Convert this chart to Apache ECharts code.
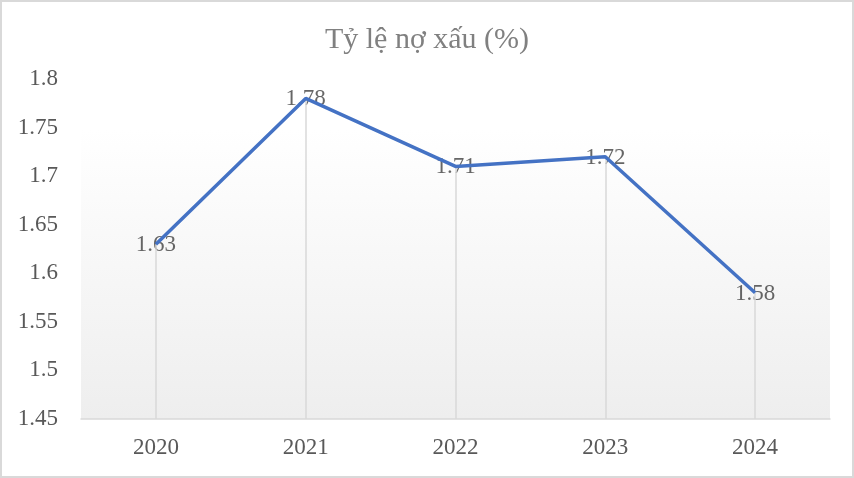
<!DOCTYPE html>
<html><head><meta charset="utf-8">
<script src="https://cdn.jsdelivr.net/npm/echarts@6/dist/echarts.min.js"></script>
<style>html,body{margin:0;padding:0;background:#fff}#c{width:854px;height:478px;box-sizing:border-box;border:2px solid #d9d9d9}</style>
</head><body><div id="c"></div>
<script>
const years = ['2020','2021','2022','2023','2024'];
const npl = [1.63, 1.78, 1.71, 1.72, 1.58];
const yMin = 1.45, yMax = 1.8, yStep = 0.05;
const chart = echarts.init(document.getElementById('c'));
const font = '"Liberation Serif", "Times New Roman", serif';
chart.setOption({
  animation: false,
  title: {text: 'Tỷ lệ nợ xấu (%)', left: 'center', top: 18,
    textStyle: {fontFamily: font, fontSize: 30, fontWeight: 'normal', color: '#808080'}},
  grid: {left: 79, right: 22, top: 77, bottom: 57, show: true, borderWidth: 0,
    backgroundColor: new echarts.graphic.LinearGradient(0,0,0,1,[{offset:0,color:'#ffffff'},{offset:0.15,color:'#ffffff'},{offset:1,color:'#eeeeee'}])},
  xAxis: {type: 'category', data: years, boundaryGap: true,
    axisLine: {lineStyle: {color: '#d9d9d9', width: 1.5}}, axisTick: {show: false},
    axisLabel: {fontFamily: font, fontSize: 23, color: '#595959', margin: 17}},
  yAxis: {type: 'value', min: yMin, max: yMax, interval: yStep,
    axisLine: {show: false}, axisTick: {show: false}, splitLine: {show: false},
    axisLabel: {fontFamily: font, fontSize: 23, color: '#595959', margin: 23,
      formatter: v => String(parseFloat(v.toFixed(2)))}},
  series: [{type: 'line', data: npl, symbol: 'none', z: 2,
    lineStyle: {opacity: 0},
    markLine: {silent: true, symbol: 'none', label: {show: false},
      lineStyle: {color: '#d9d9d9', width: 1.5, type: 'solid'},
      data: years.map((y,i) => [{coord: [y, npl[i]]}, {coord: [y, yMin]}])}
  }, {type: 'scatter', data: npl, symbolSize: 1, z: 3, silent: true,
    itemStyle: {color: 'rgba(0,0,0,0)'},
    label: {show: true, position: 'inside', offset: [0, 1], fontFamily: font, fontSize: 23, color: '#404040',
      formatter: p => p.value.toFixed(2)}
  }, {type: 'line', data: npl, symbol: 'none', zlevel: 1, z: 5,
    lineStyle: {color: '#4472C4', width: 3.5}
  }]
});
</script></body></html>
